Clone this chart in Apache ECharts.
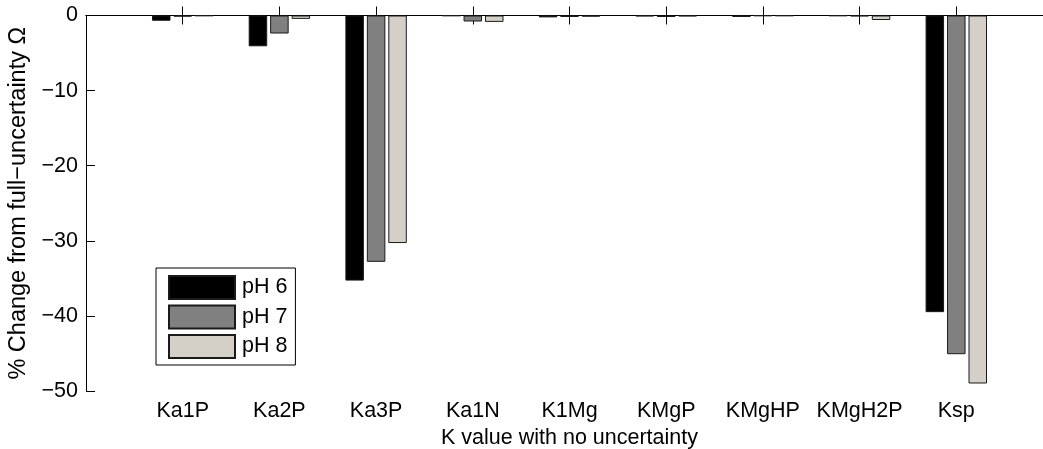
<!DOCTYPE html>
<html>
<head>
<meta charset="utf-8">
<script src="https://cdn.jsdelivr.net/npm/echarts@6/dist/echarts.min.js"></script>
<style>
html,body{margin:0;padding:0;background:#fff;}
#chart{width:1043px;height:449px;}
</style>
</head>
<body>
<div id="chart"></div>
<script>
const categories = ['Ka1P','Ka2P','Ka3P','Ka1N','K1Mg','KMgP','KMgHP','KMgH2P','Ksp'];
const seriesNames = ['pH 6','pH 7','pH 8'];
const ph6 = [-0.7, -4.1, -35.3, -0.05, -0.25, -0.1, -0.2, -0.05, -39.5];
const ph7 = [-0.15, -2.4, -32.8, -0.8, -0.2, -0.2, -0.05, -0.1, -45.1];
const ph8 = [-0.05, -0.45, -30.3, -0.85, -0.15, -0.1, -0.05, -0.6, -49.0];
const colors = ['#000000', '#808080', '#d4d0c8'];
const yMin = -50, yMax = 0, yStep = 10;

const FONT = 'Liberation Sans, Arial, Helvetica, sans-serif';
const padCats = [''].concat(categories, ['']);
const pad = arr => [null].concat(arr, [null]);
const minusFmt = v => String(v).replace('-', '\u2212');

const chart = echarts.init(document.getElementById('chart'), null, {renderer: 'canvas'});
const tickShow = (i, v) => v !== '';
const option = {
  animation: false,
  backgroundColor: '#fff',
  textStyle: {fontFamily: FONT},
  grid: {left: 86, top: 15.5, width: 967, height: 375.5, containLabel: false, outerBoundsMode: 'none'},
  legend: {
    orient: 'vertical', left: 156, top: 268,
    data: seriesNames,
    itemWidth: 66, itemHeight: 23, itemGap: 4.5,
    padding: [7, 8, 6, 12],
    borderColor: '#000', borderWidth: 1, backgroundColor: '#fff',
    icon: 'rect',
    textStyle: {fontSize: 21.5, color: '#000', fontFamily: FONT, padding: [0, 0, 0, 2]}
  },
  xAxis: [{
    type: 'category', data: padCats, boundaryGap: false, position: 'bottom',
    name: 'K value with no uncertainty', nameLocation: 'middle', nameGap: 36,
    nameTextStyle: {fontSize: 21.5, color: '#000', fontFamily: FONT},
    axisLine: {show: true, lineStyle: {color: '#000', width: 1}},
    axisTick: {show: true, inside: true, length: 9, interval: tickShow, lineStyle: {color: '#000'}},
    axisLabel: {show: true, interval: 0, margin: 9, fontSize: 21.5, color: '#000', fontFamily: FONT},
    splitLine: {show: false}
  }, {
    type: 'category', data: padCats, boundaryGap: false, position: 'top',
    axisLine: {show: true, lineStyle: {color: '#000', width: 1}},
    axisTick: {show: true, inside: true, length: 9, interval: tickShow, lineStyle: {color: '#000'}},
    axisLabel: {show: false},
    splitLine: {show: false}
  }],
  yAxis: {
    type: 'value', min: yMin, max: yMax, interval: yStep,
    name: '% Change from full\u2212uncertainty \u03A9', nameLocation: 'middle', nameGap: 51, nameRotate: 90,
    nameTextStyle: {fontSize: 23.5, color: '#000', fontFamily: FONT},
    axisLine: {show: true, lineStyle: {color: '#000', width: 1}},
    axisTick: {show: true, inside: true, length: 9, lineStyle: {color: '#000'}},
    axisLabel: {margin: 8, fontSize: 21.5, color: '#000', fontFamily: FONT, formatter: minusFmt},
    splitLine: {show: false}
  },
  series: [ph6, ph7, ph8].map((d, i) => ({
    name: seriesNames[i], type: 'bar', xAxisIndex: 0,
    data: pad(d), barWidth: 18.5, barGap: '16%',
    itemStyle: {color: colors[i], borderColor: '#1a1a1a', borderWidth: 1}
  }))
};
chart.setOption(option);
</script>
</body>
</html>
